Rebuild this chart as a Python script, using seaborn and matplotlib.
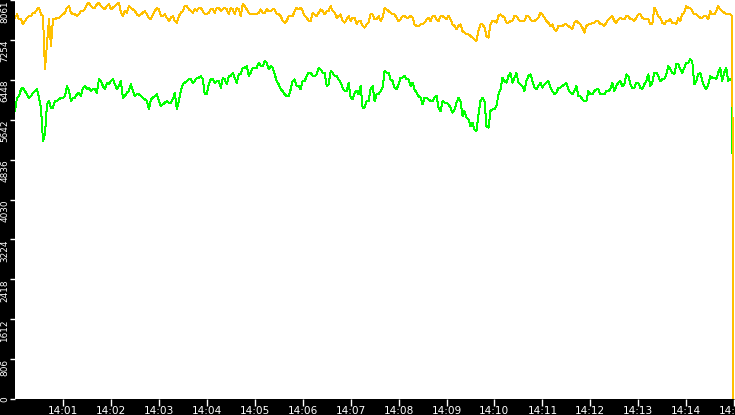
import matplotlib
matplotlib.use("Agg")
import matplotlib.pyplot as plt
import matplotlib.dates as mdates
import seaborn as sns
import pandas as pd

# ---------------- data ----------------
start_time = "2024-01-01 14:00:00"
step_seconds = 5
mid_offset_seconds = 2.5
end_time = "2024-01-01 14:14:59"

# samples every 5 s starting 14:00:00
orange_vals = [
    7703, 7670, 7569, 7703, 7737, 7804, 7905, 7737, 7165, 7131, 7670, 7703, 7771, 7905, 7804,
    7771, 7771, 7838, 7973, 7939, 7905, 8006, 7905, 7939, 7872, 7939, 8006, 7737, 7804, 7905,
    7838, 7737, 7804, 7771, 7670, 7838, 7872, 7737, 7703, 7703, 7636, 7737, 7838, 7939, 7838,
    7872, 7905, 7838, 7771, 7872, 7804, 7905, 7872, 7872, 7905, 7771, 7872, 7973, 7872, 7771,
    7771, 7804, 7804, 7872, 7838, 7872, 7771, 7636, 7636, 7737, 7838, 7872, 7838, 7703, 7636,
    7771, 7804, 7838, 7838, 7939, 7804, 7737, 7636, 7670, 7636, 7703, 7636, 7535, 7569, 7771,
    7670, 7737, 7703, 7872, 7804, 7771, 7636, 7737, 7703, 7737, 7569, 7535, 7569, 7670, 7636,
    7737, 7636, 7737, 7670, 7670, 7535, 7535, 7434, 7367, 7333, 7266, 7434, 7569, 7333, 7569,
    7636, 7737, 7737, 7602, 7636, 7737, 7670, 7636, 7737, 7670, 7636, 7703, 7771, 7636, 7535,
    7468, 7535, 7535, 7569, 7501, 7602, 7602, 7501, 7535, 7569, 7602, 7636, 7569, 7602, 7703,
    7636, 7670, 7670, 7737, 7670, 7636, 7771, 7703, 7670, 7569, 7905, 7737, 7602, 7636, 7670,
    7602, 7703, 7771, 7939, 7905, 7771, 7737, 7703, 7737, 7838, 7771, 7939, 7838, 7771, 7771,
]
# samples 2.5 s after each of the above
orange_mid_vals = [
    7771, 7670, 7636, 7737, 7804, 7872, 7771, 6660, 7670, 7670,
    7703, 7737, 7804, 7939, 7771, 7737, 7838, 7872, 8006, 7905,
    7973, 7939, 7872, 7973, 7905, 7973, 7804, 7838, 7939, 7872,
    7771, 7771, 7838, 7703, 7771, 7905, 7737, 7771, 7636, 7737,
    7602, 7804, 7939, 7872, 7804, 7838, 7905, 7771, 7804, 7872,
    7905, 7838, 7905, 7771, 7872, 7905, 7737, 7939, 7804, 7771,
    7771, 7872, 7804, 7838, 7872, 7771, 7737, 7602, 7737, 7737,
    7905, 7905, 7737, 7636, 7804, 7737, 7872, 7771, 7838, 7838,
    7703, 7771, 7602, 7737, 7703, 7569, 7636, 7501, 7602, 7771,
    7670, 7636, 7905, 7838, 7771, 7703, 7670, 7737, 7703, 7703,
    7535, 7569, 7602, 7703, 7737, 7670, 7737, 7703, 7737, 7569,
    7468, 7569, 7400, 7367, 7299, 7232, 7569, 7501, 7299, 7636,
    7602, 7771, 7703, 7602, 7636, 7737, 7636, 7636, 7737, 7636,
    7670, 7804, 7703, 7602, 7569, 7434, 7535, 7569, 7535, 7468,
    7636, 7569, 7400, 7569, 7602, 7636, 7569, 7535, 7670, 7737,
    7602, 7703, 7670, 7737, 7670, 7703, 7771, 7670, 7670, 7569,
    7838, 7703, 7569, 7636, 7602, 7569, 7636, 7804, 7905, 7838,
    7771, 7703, 7737, 7670, 7771, 7838, 7872, 7804, 7771, 7737,
]
green_vals = [
    5818, 6121, 6289, 6155, 6121, 6222, 6087, 5212, 5953, 5885, 6020, 6054, 6087, 6323, 6020,
    6087, 6188, 6289, 6256, 6222, 6256, 6458, 6323, 6390, 6424, 6357, 6323, 6087, 6188, 6357,
    6121, 6155, 6087, 6020, 6054, 6121, 6020, 5953, 6020, 5986, 6188, 6020, 6357, 6424, 6458,
    6424, 6491, 6458, 6155, 6458, 6390, 6424, 6491, 6357, 6525, 6491, 6559, 6693, 6727, 6592,
    6693, 6794, 6727, 6794, 6727, 6559, 6357, 6222, 6121, 6256, 6458, 6323, 6424, 6525, 6592,
    6525, 6693, 6592, 6323, 6626, 6525, 6458, 6289, 6222, 6087, 6188, 6155, 5885, 6020, 6256,
    6020, 6155, 6289, 6592, 6458, 6289, 6357, 6491, 6458, 6323, 6256, 6121, 5953, 6087, 6020,
    6087, 5885, 6020, 5986, 5885, 5852, 6087, 5717, 5683, 5515, 5448, 5751, 6087, 5515, 5818,
    5852, 6155, 6491, 6390, 6592, 6491, 6390, 6323, 6424, 6559, 6289, 6323, 6289, 6390, 6289,
    6155, 6289, 6323, 6390, 6188, 6222, 6121, 6054, 6020, 6155, 6222, 6256, 6155, 6222, 6256,
    6222, 6390, 6323, 6559, 6357, 6289, 6390, 6256, 6424, 6323, 6592, 6525, 6458, 6559, 6660,
    6559, 6761, 6592, 6794, 6862, 6357, 6559, 6424, 6256, 6525, 6491, 6592, 6424, 6693, 6458,
]
green_mid_vals = [
    6087, 6256, 6222, 6087, 6188, 6256, 5885, 5347, 6020, 5885,
    6020, 6087, 6121, 6222, 6087, 6155, 6121, 6323, 6289, 6256,
    6188, 6424, 6256, 6357, 6458, 6256, 6424, 6121, 6222, 6222,
    6155, 6121, 6054, 5852, 6087, 6155, 5919, 5986, 5986, 6054,
    5852, 6222, 6390, 6458, 6390, 6491, 6525, 6155, 6357, 6458,
    6424, 6289, 6458, 6525, 6592, 6390, 6559, 6693, 6525, 6693,
    6693, 6727, 6828, 6660, 6693, 6424, 6256, 6155, 6121, 6424,
    6323, 6256, 6424, 6592, 6525, 6559, 6660, 6592, 6357, 6592,
    6525, 6390, 6222, 6390, 6054, 6222, 6323, 5885, 6020, 6323,
    6155, 6222, 6626, 6592, 6424, 6256, 6491, 6525, 6458, 6390,
    6188, 6087, 6087, 6054, 6020, 6121, 5818, 5986, 5953, 5784,
    5986, 6020, 5818, 5650, 5582, 5414, 6020, 6020, 5481, 5852,
    5919, 6256, 6424, 6525, 6390, 6592, 6357, 6222, 6525, 6424,
    6256, 6390, 6357, 6424, 6222, 6188, 6289, 6357, 6256, 6155,
    6323, 6121, 6020, 6222, 6155, 6256, 6155, 6155, 6222, 6390,
    6323, 6424, 6357, 6525, 6289, 6390, 6289, 6357, 6559, 6390,
    6592, 6424, 6458, 6727, 6592, 6761, 6660, 6693, 6794, 6828,
    6424, 6592, 6323, 6357, 6491, 6458, 6693, 6592, 6424, 6491,
]
end_value = 0

y_max = 8061
ytick_labels = ["0", "806", "1612", "2418", "3224", "4030", "4836", "5642", "6448", "7254", "8061"]
xtick_labels = ["14:01", "14:02", "14:03", "14:04", "14:05", "14:06", "14:07", "14:08",
                "14:09", "14:10", "14:11", "14:12", "14:13", "14:14", "14:15"]
x_start = "2024-01-01 14:00:00"
x_end = "2024-01-01 14:15:01"

series_order = ["green", "orange"]
colors = {"green": "#00FF00", "orange": "#FFC000"}

# ---------------- build frame ----------------
t0 = pd.Timestamp(start_time)


def build(name, main, mid):
    t_main = [t0 + pd.Timedelta(seconds=step_seconds * i) for i in range(len(main))]
    t_mid = [t0 + pd.Timedelta(seconds=step_seconds * i + mid_offset_seconds) for i in range(len(mid))]
    d = pd.DataFrame({"time": t_main + t_mid + [pd.Timestamp(end_time)],
                      "value": list(main) + list(mid) + [end_value]})
    d["series"] = name
    return d.sort_values("time")


df = pd.concat([build("green", green_vals, green_mid_vals),
                build("orange", orange_vals, orange_mid_vals)], ignore_index=True)

# ---------------- figure ----------------
W, H = 735, 415
fig = plt.figure(figsize=(W / 100, H / 100), dpi=100, facecolor="black")
ax = fig.add_axes([15 / W, 16 / H, 720 / W, 399 / H])
ax.set_facecolor("white")

for name in series_order:
    sns.lineplot(data=df[df["series"] == name], x="time", y="value", ax=ax,
                 color=colors[name], linewidth=0.7, estimator=None, sort=False,
                 antialiased=False, legend=False)

ax.set_xlim(pd.Timestamp(x_start), pd.Timestamp(x_end))
ax.set_ylim(0, y_max)
ax.set_xlabel("")
ax.set_ylabel("")
for s in ax.spines.values():
    s.set_visible(False)

ax.set_xticks([pd.Timestamp("2024-01-01 " + t) for t in xtick_labels])
ax.xaxis.set_major_formatter(mdates.DateFormatter("%H:%M"))
ax.tick_params(axis="x", colors="white", length=5, width=1, pad=0.2, labelsize=7.6, direction="out")

ax.set_yticks([int(t) for t in ytick_labels])
ax.set_yticklabels(ytick_labels)
ax.tick_params(axis="y", colors="white", length=3.5, width=1, pad=0.5, labelsize=6.4, direction="out")
for lab in ax.get_yticklabels():
    lab.set_rotation(90)
    lab.set_va("top")
ax.get_yticklabels()[0].set_va("center")

fig.savefig("out.png", dpi=100, facecolor="black")
